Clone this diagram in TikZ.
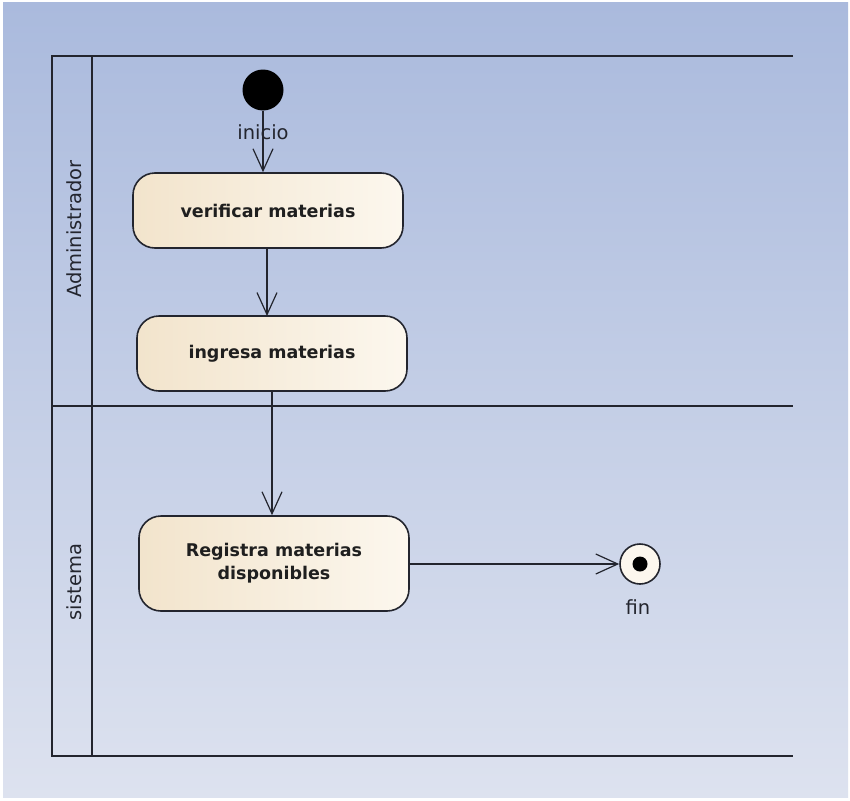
\documentclass[tikz,border=0pt]{standalone}
\usepackage{fontspec}
\setmainfont{DejaVu Sans}
\usetikzlibrary{arrows.meta}
\definecolor{bgtop}{HTML}{AABADD}
\definecolor{bgbot}{HTML}{DDE2EF}
\definecolor{ln}{HTML}{23252E}
\definecolor{boxl}{HTML}{F2E4CC}
\definecolor{boxr}{HTML}{FCF7EE}
\tikzset{
  lane/.style={draw=ln, line width=1.6pt},
  action/.style={draw=ln, line width=1.6pt, rounded corners=22pt, left color=boxl, right color=boxr,
    minimum width=270pt, minimum height=75pt, align=center, font=\bfseries\fontsize{17.5}{23}\selectfont, text=black!88},
  flow/.style={draw=ln, line width=1.2pt, -{Straight Barb[length=22pt,width=20pt,line width=1.2pt]}},
  lbl/.style={font=\fontsize{19.5}{23}\selectfont, text=ln},
}
\begin{document}
\begin{tikzpicture}[x=1pt,y=-1pt]
\useasboundingbox (0,0) rectangle (850,800);
\fill[white] (0,0) rectangle (850,800);
\shade[top color=bgtop, bottom color=bgbot] (3,3) rectangle (848,797);
% swimlanes
\draw[lane] (793,56) -- (52,56) -- (52,756) -- (793,756);
\draw[lane] (92,56) -- (92,756);
\draw[lane] (52,406) -- (793,406);
\node[lbl, rotate=90] (laneA) at (74,229) {Administrador};
\node[lbl, rotate=90] (laneS) at (74,582) {sistema};
% nodes
\node[circle, fill=black, minimum size=41pt, inner sep=0pt] (start) at (263,90) {};
\node[lbl] (inicio) at (263,132) {inicio};
\node[action, minimum width=270pt, minimum height=75pt] (a1) at (268,210.5) {verificar materias};
\node[action, minimum width=270pt, minimum height=75pt] (a2) at (272,353.5) {ingresa materias};
\node[action, minimum width=270pt, minimum height=95pt] (a3) at (274,563.5) {Registra materias\\disponibles};
\node[circle, draw=ln, line width=1.6pt, fill=boxr, minimum size=40pt, inner sep=0pt] (end) at (640,564) {};
\node[circle, fill=black, minimum size=15pt, inner sep=0pt] at (end.center) {};
\node[lbl] (fin) at (638,607) {fin};
% flows
\draw[flow] (start.south) -- (start.south |- a1.north);
\draw[flow] (267,248) -- (267,316);
\draw[flow] (a2.south) -- (a2.south |- a3.north);
\draw[flow] (a3.east |- end.west) -- (end.west);
\end{tikzpicture}
\end{document}
